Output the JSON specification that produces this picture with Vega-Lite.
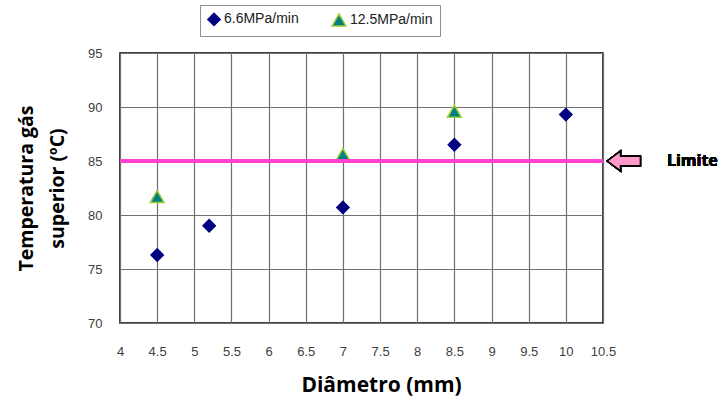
{
  "$schema": "https://vega.github.io/schema/vega-lite/v6.json",
  "autosize": {"type": "none"},
  "width": 483,
  "height": 270,
  "padding": {"left": 120, "top": 53, "right": 119, "bottom": 82},
  "background": "white",
  "config": {
    "view": {"stroke": "#000000", "strokeWidth": 1.5},
    "axis": {"gridColor": "#707070", "gridOpacity": 1, "gridWidth": 1.2, "domain": false, "ticks": false, "labelFont": "Liberation Sans", "labelFontSize": 13, "labelColor": "#404040", "titleFont": "Open Sans", "titleFontWeight": "bold", "titleColor": "#000000", "labelOverlap": false}
  },
  "data": {"values": [
    {"series": "6.6MPa/min", "diam": 4.5, "temp": 76.3},
    {"series": "6.6MPa/min", "diam": 5.2, "temp": 79.0},
    {"series": "6.6MPa/min", "diam": 7.0, "temp": 80.7},
    {"series": "6.6MPa/min", "diam": 8.5, "temp": 86.5},
    {"series": "6.6MPa/min", "diam": 10.0, "temp": 89.3},
    {"series": "12.5MPa/min", "diam": 4.5, "temp": 81.7},
    {"series": "12.5MPa/min", "diam": 7.0, "temp": 85.6},
    {"series": "12.5MPa/min", "diam": 8.5, "temp": 89.6}
  ]},
  "layer": [
    {
      "mark": {"type": "point", "filled": true, "opacity": 1, "strokeWidth": 1.5},
      "encoding": {
        "x": {"field": "diam", "type": "quantitative", "scale": {"domain": [4, 10.5], "nice": false}, "axis": {"values": [4,4.5,5,5.5,6,6.5,7,7.5,8,8.5,9,9.5,10,10.5], "format": ".1~f", "labelPadding": 22, "labelFlush": false, "title": "Diâmetro (mm)", "titleFontSize": 21, "titlePadding": 16, "titleX": 261}},
        "y": {"field": "temp", "type": "quantitative", "scale": {"domain": [70, 95], "nice": false, "zero": false}, "axis": {"values": [70,75,80,85,90,95], "labelPadding": 18, "labelFlush": false, "title": ["Temperatura gás", "superior (ºC)"], "titleFontSize": 19.5, "titlePadding": 20, "titleLineHeight": 31}},
        "shape": {"field": "series", "type": "nominal", "scale": {"domain": ["6.6MPa/min", "12.5MPa/min"], "range": ["diamond", "triangle-up"]}, "legend": null},
        "size": {"field": "series", "type": "nominal", "scale": {"domain": ["6.6MPa/min", "12.5MPa/min"], "range": [150, 190]}, "legend": null},
        "color": {"field": "series", "type": "nominal", "scale": {"domain": ["6.6MPa/min", "12.5MPa/min"], "range": ["#000080", "#008080"]},
          "legend": {"title": null, "orient": "none", "legendX": 80, "legendY": -48, "direction": "horizontal", "symbolType": "diamond", "labelFont": "Liberation Sans", "labelFontSize": 14, "labelColor": "#202020", "strokeColor": "#909090", "padding": 7, "fillColor": "white", "columnPadding": 30, "symbolSize": 60, "labelOffset": 3, "labelLimit": 200}},
        "stroke": {"field": "series", "type": "nominal", "scale": {"domain": ["6.6MPa/min", "12.5MPa/min"], "range": ["#000080", "#9acd32"]}, "legend": null}
      }
    },
    {
      "mark": {"type": "rule", "color": "#ff40d0", "strokeWidth": 3},
      "encoding": {"y": {"datum": 85, "type": "quantitative", "axis": {"values": [70,75,80,85,90,95], "labelPadding": 18, "labelFlush": false, "title": ["Temperatura gás", "superior (ºC)"], "titleFontSize": 19.5, "titlePadding": 20, "titleLineHeight": 31}}}
    },
    {
      "mark": {"type": "point", "filled": true, "clip": false, "shape": "M -1 0 L -0.2 -0.6 L -0.2 -0.28 L 1 -0.28 L 1 0.28 L -0.2 0.28 L -0.2 0.6 Z", "size": 1100, "fill": "#ff99cc", "stroke": "#000000", "strokeWidth": 1.5, "opacity": 1},
      "encoding": {
        "x": {"datum": 10.78, "type": "quantitative", "axis": {"values": [4,4.5,5,5.5,6,6.5,7,7.5,8,8.5,9,9.5,10,10.5], "format": ".1~f", "labelPadding": 22, "labelFlush": false, "title": "Diâmetro (mm)", "titleFontSize": 21, "titlePadding": 16, "titleX": 261}},
        "y": {"datum": 85, "type": "quantitative", "axis": {"values": [70,75,80,85,90,95], "labelPadding": 18, "labelFlush": false, "title": ["Temperatura gás", "superior (ºC)"], "titleFontSize": 19.5, "titlePadding": 20, "titleLineHeight": 31}}
      }
    },
    {
      "mark": {"type": "text", "text": "Limite", "align": "left", "baseline": "middle", "font": "Open Sans", "fontWeight": "bold", "fontSize": 16, "color": "#000000", "clip": false},
      "encoding": {
        "x": {"datum": 11.36, "type": "quantitative", "axis": {"values": [4,4.5,5,5.5,6,6.5,7,7.5,8,8.5,9,9.5,10,10.5], "format": ".1~f", "labelPadding": 22, "labelFlush": false, "title": "Diâmetro (mm)", "titleFontSize": 21, "titlePadding": 16, "titleX": 261}},
        "y": {"datum": 85, "type": "quantitative", "axis": {"values": [70,75,80,85,90,95], "labelPadding": 18, "labelFlush": false, "title": ["Temperatura gás", "superior (ºC)"], "titleFontSize": 19.5, "titlePadding": 20, "titleLineHeight": 31}}
      }
    }
  ]
}
